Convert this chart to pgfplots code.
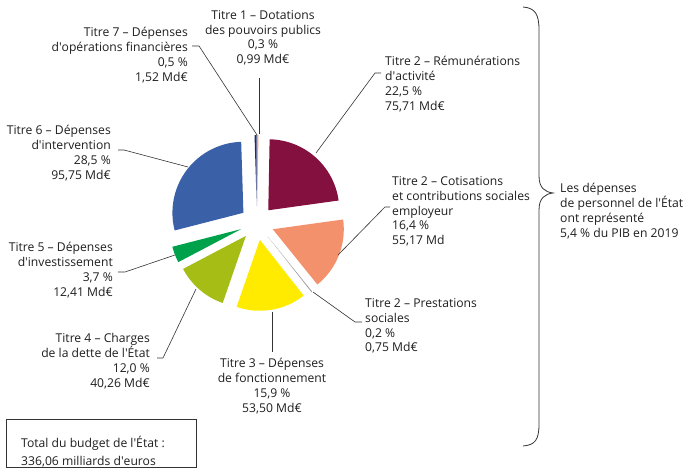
\documentclass[border=0pt]{standalone}
\usepackage{pgfplots}
\pgfplotsset{compat=1.18}
\usepackage{pgfplotstable}
\usepackage{fontspec}
\setmainfont{Open Sans}
\newcommand\ap{\textquotesingle}
\definecolor{cT1}{HTML}{F2A46E}
\definecolor{cRem}{HTML}{83103F}
\definecolor{cCot}{HTML}{F2916B}
\definecolor{cPre}{HTML}{9A9A9A}
\definecolor{cT3}{HTML}{FFEB00}
\definecolor{cT4}{HTML}{A5BD14}
\definecolor{cT5}{HTML}{00A14B}
\definecolor{cT6}{HTML}{3A60A8}
\definecolor{cT7}{HTML}{1F2A6B}
\definecolor{txt}{HTML}{1E1E1E}
\definecolor{ldr}{HTML}{333333}

% share of the budget (%), clockwise from the top
\pgfplotstableread{
pct col
0.3 cT1
22.5 cRem
16.4 cCot
0.2 cPre
15.9 cT3
12.0 cT4
3.7 cT5
28.5 cT6
0.5 cT7
}\piedata

\begin{document}
\begin{tikzpicture}[x=1bp,y=1bp,
  lbl/.style={font=\fontsize{12.2}{15}\selectfont, text=txt, inner sep=0pt},
  ld/.style={draw=ldr, line width=0.6bp}]
\path[use as bounding box] (0,0) rectangle (688,469);
\begin{axis}[at={(0,0)}, anchor=south west, scale only axis,
  width=688bp, height=469bp, xmin=0, xmax=688, ymin=0, ymax=469,
  y dir=reverse, hide axis, clip=false]
\def\cx{257}\def\cy{223}\def\rad{71}\def\expl{17}
\def\cum{0}
\pgfplotsforeachungrouped \i in {0,...,8}{%
  \pgfplotstablegetelem{\i}{pct}\of\piedata \edef\pv{\pgfplotsretval}%
  \pgfplotstablegetelem{\i}{col}\of\piedata \edef\colname{\pgfplotsretval}%
  \pgfmathsetmacro\angA{90-3.6*\cum}%
  \pgfmathsetmacro\angB{90-3.6*(\cum+\pv)}%
  \pgfmathsetmacro\angM{(\angA+\angB)/2}%
  \pgfmathsetmacro\ox{\cx+\expl*cos(\angM)}%
  \pgfmathsetmacro\oy{\cy-\expl*sin(\angM)}%
  \edef\temp{\noexpand\fill[\colname] (axis cs:\ox,\oy) -- ++(\angA:\rad bp) arc[start angle=\angA, end angle=\angB, radius=\rad bp] -- cycle;}%
  \temp
  \pgfmathsetmacro\cum{\cum+\pv}%
}
% leader lines
\draw[ld] (axis cs:259,78) -- (axis cs:259,134);
\draw[ld] (axis cs:192,46) -- (axis cs:199,46) -- (axis cs:257,135);
\draw[ld] (axis cs:316,153) -- (axis cs:375,73) -- (axis cs:381,73);
\draw[ld] (axis cs:338,255) -- (axis cs:385,207) -- (axis cs:390,207);
\draw[ld] (axis cs:313,292) -- (axis cs:355,322) -- (axis cs:362,322);
\draw[ld] (axis cs:272,312) -- (axis cs:272,352);
\draw[ld] (axis cs:196,289) -- (axis cs:163,358) -- (axis cs:157,358);
\draw[ld] (axis cs:175,255) -- (axis cs:125,272) -- (axis cs:118,272);
\draw[ld] (axis cs:188,167) -- (axis cs:124,150) -- (axis cs:118,150);
% labels
\node[lbl, anchor=north, align=center] at (axis cs:263,10) {Titre 1 – Dotations\\des pouvoirs publics\\0,3 \%\\0,99 Md€};
\node[lbl, anchor=north east, align=right] at (axis cs:188,27) {Titre 7 – Dépenses\\d\ap opérations financières\\0,5 \%\\1,52 Md€};
\node[lbl, anchor=north west, align=left] at (axis cs:385,56) {Titre 2 – Rémunérations\\d\ap activité\\22,5 \%\\75,71 Md€};
\node[lbl, anchor=north west, align=left] at (axis cs:392,176) {Titre 2 – Cotisations\\et contributions sociales\\employeur\\16,4 \%\\55,17 Md};
\node[lbl, anchor=north west, align=left] at (axis cs:365,298) {Titre 2 – Prestations\\sociales\\0,2 \%\\0,75 Md€};
\node[lbl, anchor=north, align=center] at (axis cs:272,358) {Titre 3 – Dépenses\\de fonctionnement\\15,9 \%\\53,50 Md€};
\node[lbl, anchor=north east, align=right] at (axis cs:150,333) {Titre 4 – Charges\\de la dette de l\ap État\\12,0 \%\\40,26 Md€};
\node[lbl, anchor=north east, align=right] at (axis cs:113,242) {Titre 5 – Dépenses\\d\ap investissement\\3,7 \%\\12,41 Md€};
\node[lbl, anchor=north east, align=right] at (axis cs:111,125) {Titre 6 – Dépenses\\d\ap intervention\\28,5 \%\\95,75 Md€};
% brace
\draw[ldr, line width=0.8bp] (axis cs:523,7) .. controls (axis cs:535,8) and (axis cs:539,14) .. (axis cs:539,30)
  -- (axis cs:539,176) .. controls (axis cs:539,188) and (axis cs:545,192) .. (axis cs:553,193)
  .. controls (axis cs:545,194) and (axis cs:539,198) .. (axis cs:539,210)
  -- (axis cs:539,424) .. controls (axis cs:539,440) and (axis cs:535,445) .. (axis cs:523,446);
\node[lbl, anchor=north west, align=left] at (axis cs:560,183) {Les dépenses\\de personnel de l\ap État\\ont représenté\\5,4 \% du PIB en 2019};
% total box
\draw[ldr, line width=0.8bp] (axis cs:6,419) rectangle (axis cs:196,467);
\node[lbl, anchor=north west, align=left] at (axis cs:21,435.5) {Total du budget de l\ap État :\\[4bp]336,06 milliards d\ap euros};
\end{axis}
\end{tikzpicture}
\end{document}
